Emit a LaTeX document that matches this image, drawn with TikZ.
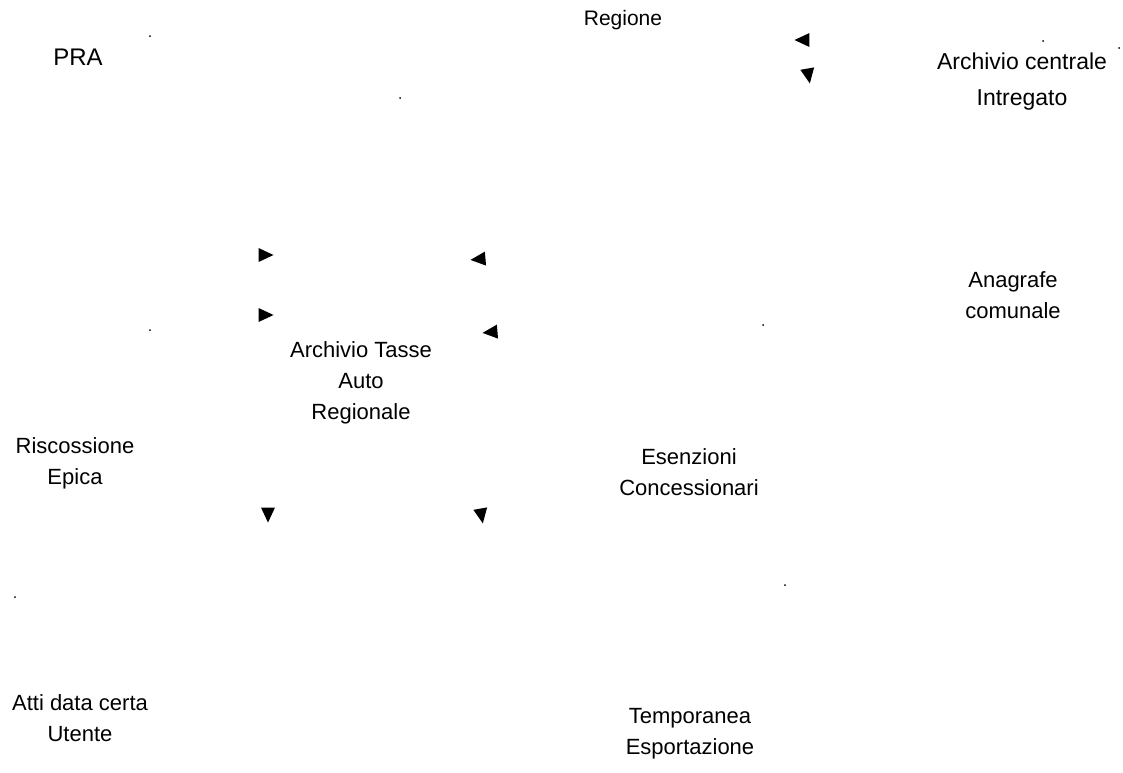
\documentclass[tikz,border=0pt]{standalone}
\usepackage{fontspec}
\setmainfont{Liberation Sans}
\usetikzlibrary{shapes.geometric}
\begin{document}
\begin{tikzpicture}[x=1pt,y=-1pt,
  lbl/.style={font=\fontsize{22}{31}\selectfont, align=center, inner sep=0pt},
  tipmark/.style={isosceles triangle, fill=black, inner sep=0pt, minimum height=15pt, minimum width=14pt, isosceles triangle stretches},
  dotmark/.style={circle, fill=black, inner sep=0pt, minimum size=2pt}]
\useasboundingbox (0,0) rectangle (1123,772);
% labels
\node[lbl, font=\fontsize{24}{31}\selectfont] (pra) at (78,57) {PRA};
\node[lbl, font=\fontsize{21}{28}\selectfont] (regione) at (623,20) {Regione};
\node[lbl, font=\fontsize{23}{36}\selectfont] (acentrale) at (1022,82) {Archivio centrale\\Intregato};
\node[lbl] (anagrafe) at (1013,295) {Anagrafe\\comunale};
\node[lbl] (tasse) at (361,383) {Archivio Tasse\\Auto\\Regionale};
\node[lbl] (riscossione) at (75,463) {Riscossione\\Epica};
\node[lbl] (esenzioni) at (689,472) {Esenzioni\\Concessionari};
\node[lbl] (atti) at (80,718) {Atti data certa\\Utente};
\node[lbl] (temporanea) at (690,734) {Temporanea\\Esportazione};
% arrow tips
\node[tipmark, rotate=180] (t1) at (805,40) {};
\node[tipmark, rotate=-80] (t2) at (808,73) {};
\node[tipmark] (t3) at (263,255) {};
\node[tipmark, rotate=185] (t4) at (481,259) {};
\node[tipmark] (t5) at (263,315) {};
\node[tipmark, rotate=185] (t6) at (493,332) {};
\node[tipmark, rotate=-90] (t7) at (268,512) {};
\node[tipmark, rotate=-80] (t8) at (481,513) {};
% dots
\node[dotmark] (d1) at (150,36) {};
\node[dotmark] (d2) at (400,98) {};
\node[dotmark] (d3) at (150,330) {};
\node[dotmark] (d4) at (763,325) {};
\node[dotmark] (d5) at (1043,41) {};
\node[dotmark] (d6) at (1119,48) {};
\node[dotmark] (d7) at (15,597) {};
\node[dotmark] (d8) at (785,585) {};
\end{tikzpicture}
\end{document}
